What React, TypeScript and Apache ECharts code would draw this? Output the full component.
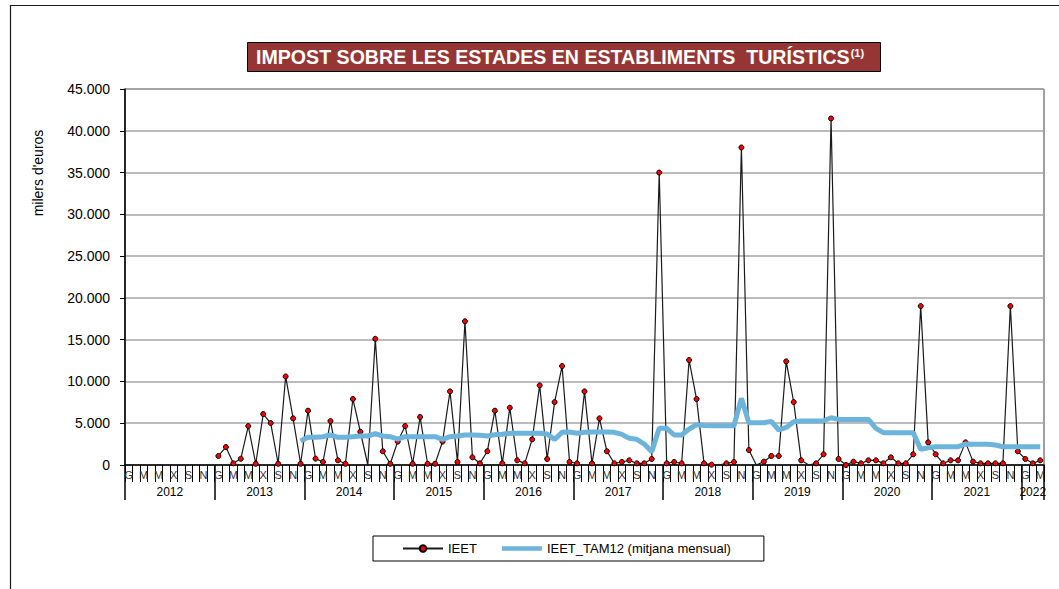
import React, { useEffect, useRef } from 'react';
import * as echarts from 'echarts';

const FONT = 'Liberation Sans, Arial, sans-serif';

const monthLetters = ['G', 'F', 'M', 'A', 'M', 'J', 'X', 'A', 'S', 'O', 'N', 'D'];
const years = ['2012', '2013', '2014', '2015', '2016', '2017', '2018', '2019', '2020', '2021', '2022'];
const monthsPerYear = [12, 12, 12, 12, 12, 12, 12, 12, 12, 12, 3];

// IEET (milers d'euros), per month
const ieet2012 = [null, null, null, null, null, null, null, null, null, null, null, null];
const ieet2013 = [1080, 2150, 200, 750, 4660, 150, 6100, 5020, 150, 10600, 5580, 150];
const ieet2014 = [6500, 760, 360, 5260, 560, 150, 7900, 3980, 0, 15100, 1640, 150];
const ieet2015 = [2800, 4660, 150, 5740, 150, 150, 2800, 8810, 360, 17200, 920, 200];
const ieet2016 = [1650, 6500, 200, 6860, 560, 200, 3070, 9530, 720, 7530, 11840, 360];
const ieet2017 = [200, 8810, 200, 5580, 1640, 200, 360, 560, 200, 200, 720, 35000];
const ieet2018 = [200, 360, 200, 12560, 7890, 200, 40, 0, 200, 360, 38000, 1790];
const ieet2019 = [0, 400, 1080, 1080, 12400, 7530, 560, 0, 200, 1280, 41470, 720];
const ieet2020 = [0, 400, 200, 560, 560, 200, 920, 200, 200, 1280, 19020, 2710];
const ieet2021 = [1280, 200, 560, 560, 2710, 400, 200, 200, 200, 200, 19020, 1640];
const ieet2022 = [720, 200, 560];

// IEET_TAM12 (mitjana mensual)
const tam2012 = [null, null, null, null, null, null, null, null, null, null, null, null];
const tam2013 = [null, null, null, null, null, null, null, null, null, null, null, 2870];
const tam2014 = [3310, 3310, 3390, 3590, 3310, 3310, 3390, 3470, 3470, 3750, 3470, 3390];
const tam2015 = [3110, 3390, 3390, 3390, 3390, 3390, 3070, 3390, 3470, 3590, 3590, 3550];
const tam2016 = [3470, 3630, 3670, 3790, 3790, 3790, 3790, 3790, 3710, 3070, 3910, 3950];
const tam2017 = [3790, 3910, 3950, 3950, 3950, 3910, 3670, 3190, 3070, 2510, 1590, 4390];
const tam2018 = [4390, 3590, 3590, 4310, 4820, 4740, 4700, 4700, 4700, 4700, 7980, 5060];
const tam2019 = [5060, 5060, 5220, 4190, 4500, 5180, 5260, 5260, 5260, 5300, 5660, 5460];
const tam2020 = [5460, 5460, 5460, 5460, 4390, 3870, 3870, 3870, 3870, 3870, 1870, 2070];
const tam2021 = [2190, 2190, 2190, 2190, 2510, 2470, 2470, 2470, 2390, 2190, 2190, 2190];
const tam2022 = [2190, 2190, 2190];

// months whose IEET marker is not visible in the source
const noMarkerMonths = ['2014-09', '2018-08', '2019-01', '2019-08'];

const ieetValues = [
  ...ieet2012, ...ieet2013, ...ieet2014, ...ieet2015, ...ieet2016, ...ieet2017,
  ...ieet2018, ...ieet2019, ...ieet2020, ...ieet2021, ...ieet2022,
];
const tamValues = [
  ...tam2012, ...tam2013, ...tam2014, ...tam2015, ...tam2016, ...tam2017,
  ...tam2018, ...tam2019, ...tam2020, ...tam2021, ...tam2022,
];

const categories: string[] = [];
years.forEach((y, yi) => {
  for (let m = 0; m < monthsPerYear[yi]; m++) {
    categories.push(`${y}-${String(m + 1).padStart(2, '0')}`);
  }
});

export default function App() {
  const ref = useRef<HTMLDivElement>(null);

  useEffect(() => {
    if (!ref.current) return;
    const chart = echarts.init(ref.current, null, { renderer: 'svg' });

    const ieetData = ieetValues.map((v, i) =>
      noMarkerMonths.includes(categories[i]) ? { value: v, symbol: 'none' } : v
    );

    const lastYearStart = categories.length - monthsPerYear[monthsPerYear.length - 1];
    const lastYearMid = lastYearStart + Math.floor(monthsPerYear[monthsPerYear.length - 1] / 2);

    const option: any = {
      animation: false,
      backgroundColor: '#fff',
      title: {
        text: '{a|IMPOST SOBRE LES ESTADES EN ESTABLIMENTS  TURÍSTICS}{b|(1)}',
        left: 247,
        top: 42,
        padding: [5, 17, 5, 9],
        backgroundColor: '#963634',
        borderColor: '#000',
        borderWidth: 1,
        textStyle: {
          rich: {
            a: { fontSize: 19.6, fontWeight: 'bold', color: '#fff', fontFamily: FONT, lineHeight: 20 },
            b: { fontSize: 11, fontWeight: 'bold', color: '#fff', fontFamily: FONT, verticalAlign: 'top', lineHeight: 12, padding: [0, 0, 0, 1] },
          },
        },
      },
      legend: {
        top: 536,
        left: 373,
        padding: [6, 33, 6, 29],
        itemGap: 25,
        itemWidth: 40,
        itemHeight: 8,
        borderColor: '#000',
        borderWidth: 1,
        borderRadius: 0,
        textStyle: { fontSize: 13, color: '#000', fontFamily: FONT },
        data: [
          { name: 'IEET' },
          { name: 'IEET_TAM12 (mitjana mensual)', icon: 'path://M0,0H43V5H0Z' },
        ],
      },
      grid: {
        left: 125,
        right: 15,
        top: 89,
        bottom: 124,
        show: true,
        borderColor: '#404040',
        borderWidth: 1,
        backgroundColor: 'transparent',
      },
      xAxis: [
        {
          type: 'category',
          data: categories,
          boundaryGap: true,
          position: 'bottom',
          axisLine: { show: true, lineStyle: { color: '#000', width: 1.5 } },
          axisTick: { show: true, interval: 0, length: 17, lineStyle: { color: '#000', width: 1 } },
          axisLabel: {
            interval: 1,
            margin: 4,
            fontSize: 11,
            color: '#333',
            fontFamily: FONT,
            formatter: (_v: string, idx: number) => monthLetters[idx % 12],
          },
          splitLine: { show: false },
        },
        {
          type: 'category',
          data: categories,
          boundaryGap: true,
          position: 'bottom',
          offset: 0,
          axisLine: { show: false },
          axisTick: {
            show: true,
            length: 35,
            interval: (idx: number) => idx % 12 === 0,
            lineStyle: { color: '#000', width: 1.5 },
          },
          axisLabel: {
            interval: (idx: number) => (idx < lastYearStart && idx % 12 === 6) || idx === lastYearMid,
            margin: 21,
            fontSize: 12,
            color: '#000',
            fontFamily: FONT,
            formatter: (v: string, idx: number) => {
              const y = v.slice(0, 4);
              return idx === lastYearMid ? `{b|${y}}` : `{a|${y}}`;
            },
            rich: {
              a: { fontSize: 12, color: '#000', fontFamily: FONT, padding: [0, 7.5, 0, 0] },
              b: { fontSize: 12, color: '#000', fontFamily: FONT },
            },
          },
          splitLine: { show: false },
        },
      ],
      yAxis: {
        type: 'value',
        min: 0,
        max: 45000,
        interval: 5000,
        axisLine: { show: true, lineStyle: { color: '#000', width: 1.5 } },
        axisTick: { show: true, length: 5, lineStyle: { color: '#000' } },
        axisLabel: {
          margin: 15,
          fontSize: 14,
          color: '#000',
          fontFamily: FONT,
          formatter: (v: number) => String(v).replace(/\B(?=(\d{3})+(?!\d))/g, '.'),
        },
        splitLine: { show: true, lineStyle: { color: '#a6a6a6', width: 1.5 } },
      },
      graphic: [
        {
          type: 'rect',
          silent: true,
          z: -10,
          shape: { x: 10.5, y: 5.5, width: 1200, height: 1000 },
          style: { fill: 'none', stroke: '#1a1a1a', lineWidth: 1.2 },
        },
        {
          type: 'text',
          x: 38,
          y: 173,
          rotation: Math.PI / 2,
          style: {
            text: "milers d'euros",
            fontSize: 14,
            fontFamily: FONT,
            fill: '#000',
            textAlign: 'center',
            textVerticalAlign: 'middle',
          },
        },
      ],
      series: [
        {
          name: 'IEET',
          type: 'line',
          xAxisIndex: 0,
          data: ieetData,
          symbol: 'circle',
          symbolSize: 5,
          showAllSymbol: true,
          lineStyle: { color: '#1a1a1a', width: 1.2 },
          itemStyle: { color: '#ff0000', borderColor: '#000', borderWidth: 1 },
          z: 2,
        },
        {
          name: 'IEET_TAM12 (mitjana mensual)',
          type: 'line',
          xAxisIndex: 0,
          data: tamValues,
          symbol: 'none',
          lineStyle: { color: '#6cb4dc', width: 5 },
          itemStyle: { color: '#6cb4dc' },
          z: 3,
        },
      ],
    };

    chart.setOption(option);
    return () => chart.dispose();
  }, []);

  return (
    <div
      ref={ref}
      style={{ position: 'absolute', left: 0, top: 0, width: 1059, height: 589, background: '#fff' }}
    />
  );
}
